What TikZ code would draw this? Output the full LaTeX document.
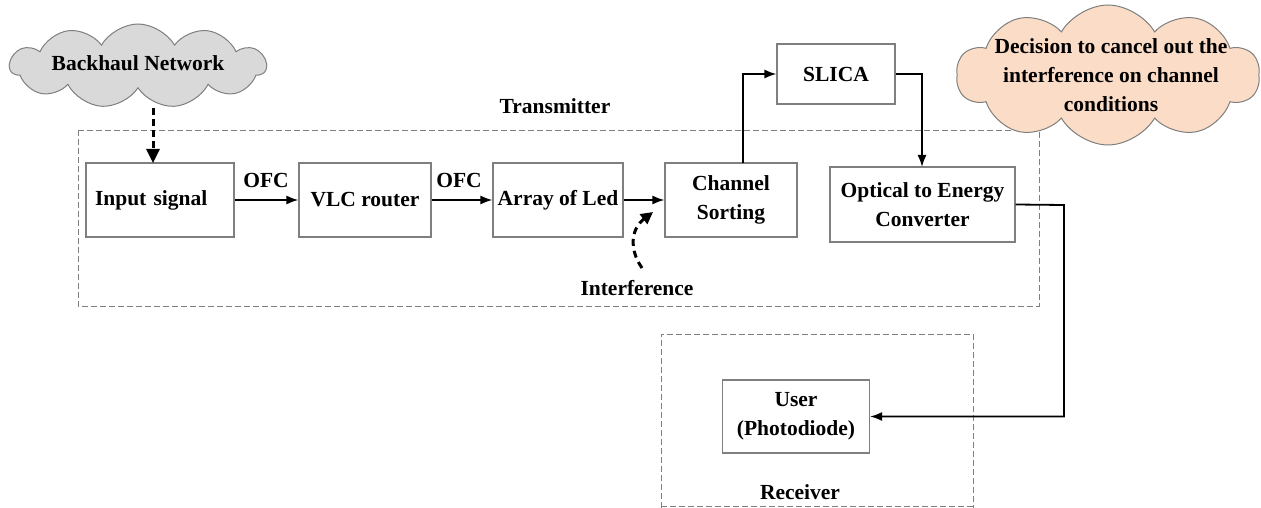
\documentclass[tikz,border=0pt]{standalone}
\usepackage{fontspec}
\setmainfont{Liberation Serif}
\usetikzlibrary{shapes.symbols,arrows.meta}
\definecolor{boxgray}{HTML}{7F7F7F}
\definecolor{cloudgray}{HTML}{D9D9D9}
\definecolor{cloudpeach}{HTML}{FBDCC6}
\tikzset{
  blk/.style={draw=boxgray, line width=1.1pt, fill=white, align=center, inner sep=2pt,
    font=\fontsize{21.5}{29}\selectfont\bfseries},
  lbl/.style={font=\fontsize{21.5}{29}\selectfont\bfseries, inner sep=0pt, align=center},
  region/.style={draw=boxgray, line width=0.9pt, dash pattern=on 6pt off 3pt},
  conn/.style={line width=1.8pt, -{Latex[length=12pt,width=9pt]}},
  dconn/.style={line width=3pt, dash pattern=on 7pt off 4pt, -{Triangle[length=14pt,width=13pt]}},
  cloudnode/.style={cloud, cloud ignores aspect, cloud puff arc=120, draw=boxgray, line width=1pt,
    inner sep=0pt}
}
\begin{document}
\begin{tikzpicture}[x=1pt,y=-1pt]
\useasboundingbox (0,0) rectangle (1261,508);
% regions
\draw[region] (78,130) rectangle (1039,306);
\draw[region] (661,508) -- (661,334) -- (973,334) -- (973,508);
\draw[region] (661,506) -- (973,506);
\node[lbl] (tx) at (555,106) {Transmitter};
\node[lbl] (rx) at (800,492) {Receiver};
% clouds
\node[cloudnode, fill=cloudgray, minimum width=256pt, minimum height=84pt, cloud puffs=11] (bh) at (138,66) {};
\node[lbl] (bht) at (138,63) {Backhaul Network};
\node[cloudnode, fill=cloudpeach, minimum width=303pt, minimum height=140pt, cloud puffs=10] (dec) at (1108,75) {};
\node[lbl] (dect) at (1111,75) {Decision to cancel out the\\ interference on channel\\ conditions};
% blocks
\node[blk, minimum width=148pt, minimum height=74pt, text width=130pt, inner xsep=9pt, align=left] (inp) at (160,200) {Input signal};
\node[blk, minimum width=132pt, minimum height=74pt] (vlc) at (365,200) {VLC router};
\node[blk, minimum width=130pt, minimum height=74pt] (led) at (558,200) {Array of Led};
\node[blk, minimum width=132pt, minimum height=74pt] (cs) at (731,200) {Channel\\ Sorting};
\node[blk, minimum width=118pt, minimum height=60pt] (slica) at (836,74) {SLICA};
\node[blk, minimum width=185pt, minimum height=75pt] (oec) at (922.5,204.5) {Optical to Energy\\ Converter};
\node[blk, minimum width=147pt, minimum height=73pt] (user) at (796,416.5) {User\\ (Photodiode)};
% labels
\node[lbl] (ofc1) at (266,180) {OFC};
\node[lbl] (ofc2) at (459,180) {OFC};
\node[lbl] (intf) at (637,288) {Interference};
% connectors
\coordinate (bhtop) at (153,108);
\coordinate (inptop) at (153,163);
\draw[dconn] (bhtop) -- (inptop);
\draw[conn] (inp.east) -- (vlc.west);
\draw[conn] (vlc.east) -- (led.west);
\draw[conn] (led.east) -- (cs.west);
\coordinate (csn) at (743,163);
\draw[conn] (csn) |- (slica.west);
\coordinate (oecn) at (922,167);
\draw[conn] (slica.east) -| (oecn);
\coordinate (turn) at (1064,205);
\draw[conn] (oec.east) -- (turn) |- (user.east);
\coordinate (ia) at (642,268);
\coordinate (ib) at (653,212);
\draw[line width=3pt, dash pattern=on 7pt off 5pt, -{Triangle[length=12pt,width=12pt]}] (ia) .. controls (628,248) and (632,228) .. (ib);
\end{tikzpicture}
\end{document}
